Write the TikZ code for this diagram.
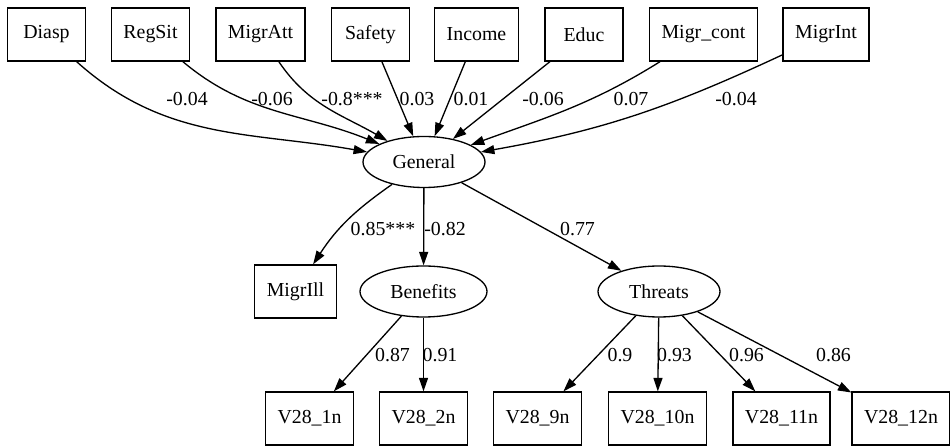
\documentclass[tikz,border=0pt]{standalone}
\usepackage{fontspec}
\setmainfont{Liberation Serif}
\usetikzlibrary{arrows.meta,shapes.geometric}
\begin{document}
\begin{tikzpicture}[x=0.02cm,y=0.02cm,
	font=\rmfamily\fontsize{11.3}{13}\selectfont,
	obs/.style={draw,rectangle,line width=0.75pt,minimum width=1.56cm,minimum height=1.06cm,inner xsep=0.24cm},
	lat/.style={draw,ellipse,line width=0.75pt,minimum width=2.44cm,minimum height=1.02cm,inner sep=0pt},
	arr/.style={-{Triangle[length=0.27cm,width=0.18cm]},line width=0.75pt},
	coef/.style={inner sep=1pt}]
	\useasboundingbox (0,0) rectangle (950,446);
	%上层观测变量
	\node[obs] (Diasp) at (46.5,411.5) {Diasp};
	\node[obs] (RegSit) at (150.5,411.5) {RegSit};
	\node[obs] (MigrAtt) at (260.5,411.5) {MigrAtt};
	\node[obs] (Safety) at (370.5,411.5) {Safety};
	\node[obs] (Income) at (476.5,411.5) {Income};
	\node[obs] (Educ) at (584,411.5) {Educ};
	\node[obs] (Migrcont) at (703.5,411.5) {Migr\_cont};
	\node[obs] (MigrInt) at (826,411.5) {MigrInt};
	%潜变量
	\node[lat] (General) at (424,284) {General};
	\node[lat,minimum width=2.54cm] (Benefits) at (423.5,154.5) {Benefits};
	\node[lat] (Threats) at (659,154.5) {Threats};
	\node[obs] (MigrIll) at (295.5,154.5) {MigrIll};
	%下层指标
	\node[obs] (V1) at (309.5,27.5) {V28\_1n};
	\node[obs] (V2) at (423.5,27.5) {V28\_2n};
	\node[obs] (V9) at (537.5,27.5) {V28\_9n};
	\node[obs] (V10) at (657.5,27.5) {V28\_10n};
	\node[obs] (V11) at (781.5,27.5) {V28\_11n};
	\node[obs] (V12) at (901,27.5) {V28\_12n};
	%连线
	\draw[arr] (Diasp) to[out=-42,in=170] (General);
	\draw[arr] (RegSit) to[out=-40,in=158] (General);
	\draw[arr] (MigrAtt) to[out=-56,in=150] (General);
	\draw[arr] (Safety) -- (General);
	\draw[arr] (Income) -- (General);
	\draw[arr] (Educ) -- (General);
	\draw[arr] (Migrcont) to[out=-148,in=20] (General);
	\draw[arr] (MigrInt) to[out=-155,in=10] (General);
	\draw[arr] (General) to[out=-145,in=57] (MigrIll);
	\draw[arr] (General) -- (Benefits);
	\draw[arr] (General) -- (Threats);
	\draw[arr] (Benefits) -- (V1);
	\draw[arr] (Benefits) -- (V2);
	\draw[arr] (Threats) -- (V9);
	\draw[arr] (Threats) -- (V10);
	\draw[arr] (Threats) -- (V11);
	\draw[arr] (Threats) -- (V12);
	%系数
	\node[coef] (cDiasp) at (187,347) {-0.04};
	\node[coef] (cRegSit) at (272,347) {-0.06};
	\node[coef] (cMigrAtt) at (352,347) {-0.8***};
	\node[coef] (cSafety) at (417,347) {0.03};
	\node[coef] (cIncome) at (471,347) {0.01};
	\node[coef] (cEduc) at (543,347) {-0.06};
	\node[coef] (cMigrcont) at (631,347) {0.07};
	\node[coef] (cMigrInt) at (736,347) {-0.04};
	\node[coef] (cMigrIll) at (383,217) {0.85***};
	\node[coef] (cBenefits) at (445,217) {-0.82};
	\node[coef] (cThreats) at (577.5,217) {0.77};
	\node[coef] (cV1) at (392.5,91) {0.87};
	\node[coef] (cV2) at (440,91) {0.91};
	\node[coef] (cV9) at (620,91) {0.9};
	\node[coef] (cV10) at (674.5,91) {0.93};
	\node[coef] (cV11) at (746.5,91) {0.96};
	\node[coef] (cV12) at (833.5,91) {0.86};
\end{tikzpicture}
\end{document}
